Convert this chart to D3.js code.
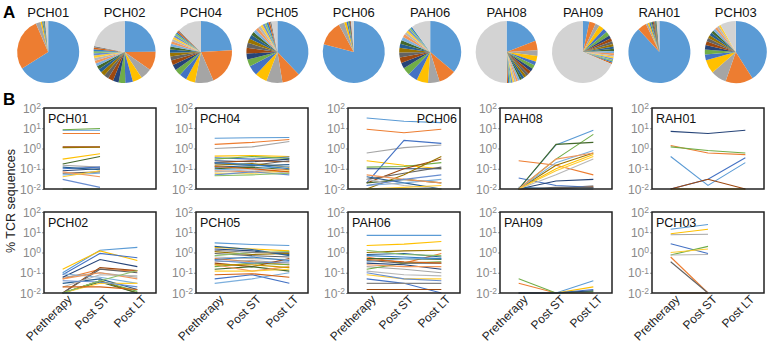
<!DOCTYPE html>
<html>
<head>
<meta charset="utf-8">
<script src="https://cdn.jsdelivr.net/npm/d3@7"></script>
<style>
  body { margin: 0; background: #fff; }
  svg { font-family: "Liberation Sans", Arial, sans-serif; }
</style>
</head>
<body>
<div id="chart"></div>
<script>
// ---- data ----
const pieNames = ["PCH01", "PCH02", "PCH04", "PCH05", "PCH06", "PAH06", "PAH08", "PAH09", "RAH01", "PCH03"];
// clone shares, largest first; the last value is the pooled "other" clones
const piePCH01 = [66, 27.5, 2.5, 0.8, 0.6, 0.5, 0.4, 1.7];
const piePCH02 = [25, 10, 6, 5, 4, 3.5, 3, 2.8, 2.5, 2.3, 2, 1.8, 1.6, 1.5, 1.4, 1.3, 1.2, 1.1, 1, 0.9, 0.8, 22];
const piePCH04 = [25, 20, 10, 5, 4, 3.5, 3, 2.5, 2.2, 2, 1.8, 1.6, 1.5, 1.4, 1.3, 1.2, 1.1, 1, 0.9, 0.8, 0.7, 13];
const piePCH05 = [36, 9, 8, 6, 5, 3.5, 3, 2.8, 2.5, 2.2, 2, 1.8, 1.6, 1.5, 1.4, 1.2, 1.1, 1, 0.9, 0.8, 0.7, 3];
const piePCH06 = [79, 13, 3, 1.2, 0.8, 0.6, 0.5, 0.4, 1.5];
const piePAH06 = [36, 9, 6, 6, 5, 4, 3, 3, 2.5, 2.5, 2, 2, 1.8, 1.6, 1.4, 1.2, 1, 0.9, 0.8, 10];
const piePAH08 = [19, 5, 3, 3, 2, 2, 1.8, 1.6, 1.5, 1.4, 1.3, 1.2, 1.1, 1, 1, 0.9, 0.8, 0.8, 0.7, 0.6, 50];
const piePAH09 = [3, 3, 2, 2.5, 2, 2, 1.5, 1.5, 1.3, 1.2, 1.1, 1, 1, 0.9, 0.8, 0.8, 0.7, 0.7, 0.6, 0.6, 62];
const pieRAH01 = [86, 4.5, 1, 0.8, 0.7, 0.6, 0.5, 0.5, 0.4, 0.4, 0.4, 0.3, 1.4];
const piePCH03 = [40, 14, 8, 7, 3, 2.5, 2.2, 2, 1.8, 1.6, 1.5, 1.4, 1.3, 1.2, 1.1, 1, 8];
const pieValues = [piePCH01, piePCH02, piePCH04, piePCH05, piePCH06, piePAH06, piePAH08, piePAH09, pieRAH01, piePCH03];

const timepoints = ["Pretherapy", "Post ST", "Post LT"];
const panelNames = ["PCH01", "PCH04", "PCH06", "PAH08", "RAH01", "PCH02", "PCH05", "PAH06", "PAH09", "PCH03"];
// % TCR sequences per clone at [Pretherapy, Post ST, Post LT]; null = not sampled
const linesPCH01 = [
  [8, 8, null], [5.5, 5.5, null], [0.15, 0.12, null], [0.3, 0.55, null], [0.1, 0.12, null],
  [8.5, 9.8, null], [0.08, 0.1, null], [1.2, 1.2, null], [0.06, 0.07, null], [1.1, 1.15, null],
  [0.12, 0.09, null], [0.17, 0.4, null], [0.05, 0.06, null], [0.07, 0.04, null], [0.01, 0.01, null],
  [0.04, 0.08, null], [0.03, 0.012, null], [0.01, 0.01, null]
];
const linesPCH04 = [
  [3.2, 3.4, 3.5], [1.6, 2.0, 2.8], [1.0, 1.2, 2.2], [0.42, 0.45, 0.4], [0.35, 0.3, 0.38],
  [0.3, 0.4, 0.32], [0.25, 0.22, 0.3], [0.2, 0.25, 0.22], [0.18, 0.15, 0.25], [0.15, 0.18, 0.12],
  [0.12, 0.14, 0.16], [0.1, 0.12, 0.09], [0.09, 0.1, 0.13], [0.08, 0.07, 0.1], [0.07, 0.09, 0.06],
  [0.06, 0.06, 0.08], [0.05, 0.07, 0.05], [0.045, 0.05, 0.06], [0.2, 0.16, 0.1], [0.13, 0.1, 0.07]
];
const linesPCH06 = [
  [32, 22, 19], [9, 6, 9], [0.6, 1.1, 1.5], [0.25, 0.15, 0.1], [0.02, 2.5, 1.8],
  [0.12, 0.13, 0.2], [0.1, 0.1, 0.1], [0.02, 0.1, 0.3], [0.03, 0.06, 0.12], [0.01, 0.05, 0.4],
  [0.04, 0.02, 0.01], [0.02, 0.03, 0.02], [0.015, 0.02, 0.03], [0.05, 0.03, 0.02], [0.03, 0.015, 0.01],
  [0.01, 0.012, 0.015], [0.015, 0.03, 0.05], [0.01, 0.01, 0.01]
];
const linesPAH08 = [
  [0.01, 1.5, 8], [0.25, 0.15, 0.05], [0.01, 0.01, 0.015], [0.01, 0.1, 0.5], [0.035, 0.015, 0.012],
  [0.01, 0.3, 5], [0.01, 0.025, 0.03], [0.01, 0.01, 0.013], [0.01, 0.012, 0.012], [0.01, 0.15, 0.6],
  [0.012, 0.01, 0.01], [0.01, 1.6, 2], [0.01, 0.2, 0.8], [0.01, 0.3, 0.6], [0.01, 0.05, 0.3],
  [0.01, 0.08, 0.4]
];
const linesRAH01 = [
  [0.4, 0.015, 0.2], [1.4, 0.6, 0.5], [0.01, 0.01, 0.01], [0.01, 0.01, 0.01], [0.01, 0.03, 0.35],
  [1.2, 0.8, 0.6], [7, 5.5, 8], [0.01, 0.03, 0.01]
];
const linesPCH02 = [
  [0.1, 1.3, 1.8], [0.05, 0.15, 0.12], [0.06, 0.1, 0.06], [0.15, 1.2, 0.4], [0.08, 0.9, 0.55],
  [0.01, 0.04, 0.012], [0.06, 0.45, 0.2], [0.01, 0.18, 0.13], [0.01, 0.15, 0.1], [0.01, 0.04, 0.01],
  [0.03, 0.05, 0.015], [0.01, 0.035, 0.01], [0.09, 0.06, 0.03], [0.05, 0.1, 0.05], [0.02, 0.08, 0.07],
  [0.01, 0.03, 0.03], [0.04, 0.035, 0.02], [0.01, 0.04, 0.13], [0.01, 0.01, 0.01], [0.02, 0.02, 0.015]
];
const linesPCH05 = [
  [3, 2.5, 2.2], [0.5, 0.35, 0.25], [0.35, 0.4, 0.3], [1.8, 1.5, 1.2], [0.05, 0.08, 0.03],
  [0.2, 0.3, 0.25], [1.5, 1.2, 0.8], [0.3, 0.2, 0.5], [0.9, 0.7, 0.6], [1.1, 0.8, 0.9],
  [2, 1.4, 0.7], [0.15, 0.2, 0.12], [0.03, 0.05, 0.1], [0.25, 0.12, 0.2], [0.6, 0.5, 0.45],
  [0.12, 0.12, 0.15], [0.4, 0.3, 0.35], [0.7, 1, 1.1], [0.45, 0.6, 0.4], [0.08, 0.09, 0.06],
  [1.3, 1, 1], [0.25, 0.25, 0.18]
];
const linesPAH06 = [
  [7, 7, 7], [0.6, 0.3, 0.9], [0.2, 0.15, 0.1], [2.2, 2.6, 3.5], [0.05, 0.03, 0.01],
  [0.15, 0.3, 0.35], [0.3, 0.25, 0.15], [0.015, 0.015, 0.015], [0.4, 0.3, 0.3], [1, 1.2, 1.3],
  [0.8, 0.9, 0.6], [0.5, 0.5, 0.45], [0.35, 0.5, 0.5], [0.25, 0.2, 0.2], [0.12, 0.08, 0.07],
  [0.08, 0.05, 0.05], [0.1, 0.05, 0.04], [1.3, 0.8, 0.7], [0.7, 0.6, 0.5], [0.45, 0.35, 0.3],
  [0.03, 0.03, 0.03]
];
const linesPAH09 = [
  [0.01, 0.01, 0.04], [0.03, 0.01, 0.01], [0.01, 0.01, 0.01], [0.01, 0.01, 0.02], [0.01, 0.01, 0.015],
  [0.05, 0.01, 0.012], [0.01, 0.01, 0.013]
];
const linesPCH03 = [
  [14, 24, null], [0.6, 0.01, null], [7.5, 8, null], [8.5, 14, null], [2.7, 0.9, null],
  [0.75, 2, null], [0.01, 0.01, null], [0.01, 0.01, null], [0.35, 0.01, null], [0.01, 0.01, null],
  [0.01, 0.01, null], [0.01, 0.01, null], [0.01, 0.01, null], [0.01, 0.01, null], [0.75, 0.8, null],
  [1, 1.5, null]
];
const panelLines = [linesPCH01, linesPCH04, linesPCH06, linesPAH08, linesRAH01,
                    linesPCH02, linesPCH05, linesPAH06, linesPAH09, linesPCH03];
const yTicks = [1e-2, 1e-1, 1, 10, 100];

// ---- setup ----
const width = 770, height = 349;
const palette = ["#5B9BD5", "#ED7D31", "#A5A5A5", "#FFC000", "#4472C4", "#70AD47",
                 "#264478", "#9E480E", "#636363", "#997300", "#255E91", "#43682B",
                 "#7CAFDD", "#F1975A", "#B7B7B7", "#FFCD33", "#698ED0", "#8CC168",
                 "#327DC2", "#D26012", "#848484", "#CC9A00"];
const otherColor = "#D3D3D3";

const svg = d3.select("#chart").append("svg")
    .attr("width", width)
    .attr("height", height);

// panel letters
svg.append("text").attr("x", 3).attr("y", 18).attr("font-size", 17).attr("font-weight", "bold").text("A");
svg.append("text").attr("x", 3).attr("y", 105).attr("font-size", 17).attr("font-weight", "bold").text("B");

// ---- A: pies ----
const pieX = d3.scaleBand().domain(pieNames).range([10, 774]);
const pie = d3.pie().sort(null).value(d => d);
const arc = d3.arc().innerRadius(0).outerRadius(31);

pieNames.forEach((name, i) => {
    const vals = pieValues[i];
    const g = svg.append("g")
        .attr("transform", `translate(${pieX(name) + pieX.bandwidth() / 2}, 52)`);
    g.selectAll("path")
        .data(pie(vals))
        .join("path")
        .attr("d", arc)
        .attr("fill", (d, j) => j === vals.length - 1 ? otherColor : palette[j % palette.length]);
    g.append("text")
        .attr("y", -35)
        .attr("text-anchor", "middle")
        .attr("font-size", 13)
        .attr("fill", "#111")
        .text(name);
});

// ---- B: clone tracking panels ----
const boxW = 112, boxH = 81;
const colLeft = d3.scaleLinear().domain([0, 4]).range([44, 652]);
const rowTop = [108, 212];

const x = d3.scalePoint().domain(timepoints).range([0, boxW]).padding(0.5);
const y = d3.scaleLog().domain([1e-2, 1e2]).range([boxH, 0]).clamp(true);
const line = d3.line()
    .defined(d => d != null)
    .x((d, i) => x(timepoints[i]))
    .y(d => y(d));

panelNames.forEach((name, i) => {
    const col = i % 5, row = Math.floor(i / 5);
    const g = svg.append("g")
        .attr("transform", `translate(${colLeft(col)}, ${rowTop[row]})`);

    // y axis
    const ax = g.append("g")
        .call(d3.axisLeft(y).tickValues(yTicks).tickSize(2).tickFormat(""));
    ax.select(".domain").remove();
    ax.selectAll(".tick line").attr("stroke", "#999");
    ax.selectAll(".tick").append("text")
        .attr("x", -3)
        .attr("dy", "0.35em")
        .attr("text-anchor", "end")
        .attr("fill", "#8a8a8a")
        .attr("font-size", 12)
        .each(function(d) {
            const t = d3.select(this);
            t.append("tspan").text("10");
            t.append("tspan").attr("dy", "-0.45em").attr("font-size", 8.5)
                .text(Math.round(Math.log10(d)));
        });

    // lines
    g.append("g")
        .selectAll("path")
        .data(panelLines[i])
        .join("path")
        .attr("d", line)
        .attr("fill", "none")
        .attr("stroke", (d, j) => palette[j % palette.length])
        .attr("stroke-width", 1.1);

    // frame
    g.append("rect")
        .attr("width", boxW).attr("height", boxH)
        .attr("fill", "none")
        .attr("stroke", "#222")
        .attr("stroke-width", 1.5);

    // panel label
    const right = name === "PCH06";
    g.append("text")
        .attr("x", right ? boxW - 3 : 4)
        .attr("y", 15)
        .attr("text-anchor", right ? "end" : "start")
        .attr("font-size", 12.5)
        .attr("fill", "#111")
        .text(name);

    // x labels on bottom row only
    if (row === 1) {
        g.append("g")
            .selectAll("text")
            .data(timepoints)
            .join("text")
            .attr("transform", d => `translate(${x(d) + 4}, ${boxH + 1}) rotate(-45)`)
            .attr("text-anchor", "end")
            .attr("dy", "0.7em")
            .attr("font-size", 12)
            .attr("fill", "#222")
            .text(d => d);
    }
});

// y title
svg.append("text")
    .attr("transform", "translate(15, 201) rotate(-90)")
    .attr("text-anchor", "middle")
    .attr("font-size", 12.5)
    .attr("fill", "#222")
    .text("% TCR sequences");
</script>
</body>
</html>
